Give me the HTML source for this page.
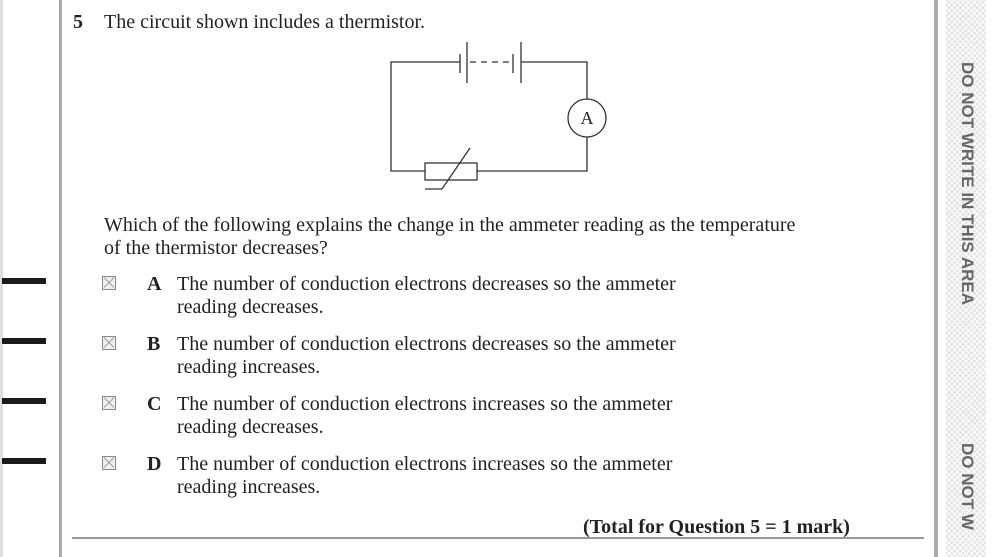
<!DOCTYPE html>
<html style="overflow:hidden;width:994px;height:557px"><head><style>
body{margin:0;width:994px;height:557px;background:#fff;position:relative;overflow:hidden;font-family:"Liberation Serif",serif;color:#222;}
.t{position:absolute;font-size:20px;line-height:23px;white-space:nowrap;}
.mk{position:absolute;left:2px;width:44px;height:6px;background:#1a1a1a;}
.cb{position:absolute;left:102px;width:14px;height:14px;border:1px solid #888;background:#eee;box-sizing:border-box;}
.cb:before,.cb:after{content:"";position:absolute;left:-1px;top:5px;width:14px;height:1px;background:#999;transform:rotate(45deg);}
.cb:after{transform:rotate(-45deg);}
.hatch{position:absolute;left:946px;top:0;width:40px;height:557px;background-color:#e4e4e4;background-image:repeating-linear-gradient(45deg,#fff 0 1px,transparent 1px 4px),repeating-linear-gradient(-45deg,#fff 0 1px,transparent 1px 4px);overflow:hidden;}
.vt{position:absolute;font-family:"Liberation Sans",sans-serif;font-weight:bold;font-size:17px;color:#666;transform:rotate(90deg);transform-origin:0 0;white-space:nowrap;}
</style></head><body>
<div style="position:absolute;left:0;top:0;width:3px;height:557px;background:#ddd"></div>
<div style="position:absolute;left:59px;top:0;width:3px;height:557px;background:#aaa"></div>
<div style="position:absolute;left:934px;top:0;width:4px;height:557px;background:#a8aab0"></div>
<div class="hatch">
<div class="vt" style="left:31px;top:62px">DO NOT WRITE IN THIS AREA</div>
<div class="vt" style="left:31px;top:443px">DO NOT W</div>
</div>
<div class="mk" style="top:278px"></div>
<div class="mk" style="top:338px"></div>
<div class="mk" style="top:398px"></div>
<div class="mk" style="top:458px"></div>
<div class="t" style="left:73px;top:11px"><b>5</b></div>
<div class="t" style="left:104px;top:11px">The circuit shown includes a thermistor.</div>
<svg style="position:absolute;left:0;top:0" width="994" height="557">
<g stroke="#333" stroke-width="1.3" fill="none">
<polyline points="460,62 391,62 391,171 425,171"/>
<polyline points="521,62 587,62 587,99"/>
<polyline points="587,137 587,171 477,171"/>
<line x1="460" y1="54" x2="460" y2="73"/>
<line x1="467" y1="42" x2="467" y2="83"/>
<line x1="470" y1="62" x2="513" y2="62" stroke-dasharray="6,5"/>
<line x1="513" y1="54" x2="513" y2="73"/>
<line x1="521" y1="42" x2="521" y2="83"/>
<circle cx="587" cy="118" r="19"/>
<rect x="425" y="163" width="52" height="17"/>
<polyline points="425,189 442,189 470,148"/>
</g>
<text x="587" y="124" font-family="Liberation Serif" font-size="18" text-anchor="middle" fill="#222">A</text>
</svg>
<div class="t" style="left:104px;top:214px">Which of the following explains the change in the ammeter reading as the temperature<br>of the thermistor decreases?</div>
<div class="cb" style="top:276px"></div><div class="t" style="left:147px;top:273px"><b>A</b></div>
<div class="t" style="left:177px;top:273px">The number of conduction electrons decreases so the ammeter<br>reading decreases.</div>
<div class="cb" style="top:336px"></div><div class="t" style="left:147px;top:333px"><b>B</b></div>
<div class="t" style="left:177px;top:333px">The number of conduction electrons decreases so the ammeter<br>reading increases.</div>
<div class="cb" style="top:396px"></div><div class="t" style="left:147px;top:393px"><b>C</b></div>
<div class="t" style="left:177px;top:393px">The number of conduction electrons increases so the ammeter<br>reading decreases.</div>
<div class="cb" style="top:456px"></div><div class="t" style="left:147px;top:453px"><b>D</b></div>
<div class="t" style="left:177px;top:453px">The number of conduction electrons increases so the ammeter<br>reading increases.</div>
<div class="t" style="left:583px;top:516px"><b>(Total for Question 5 = 1 mark)</b></div>
<div style="position:absolute;left:72px;top:537px;width:852px;height:2px;background:#999"></div>
</body></html>
